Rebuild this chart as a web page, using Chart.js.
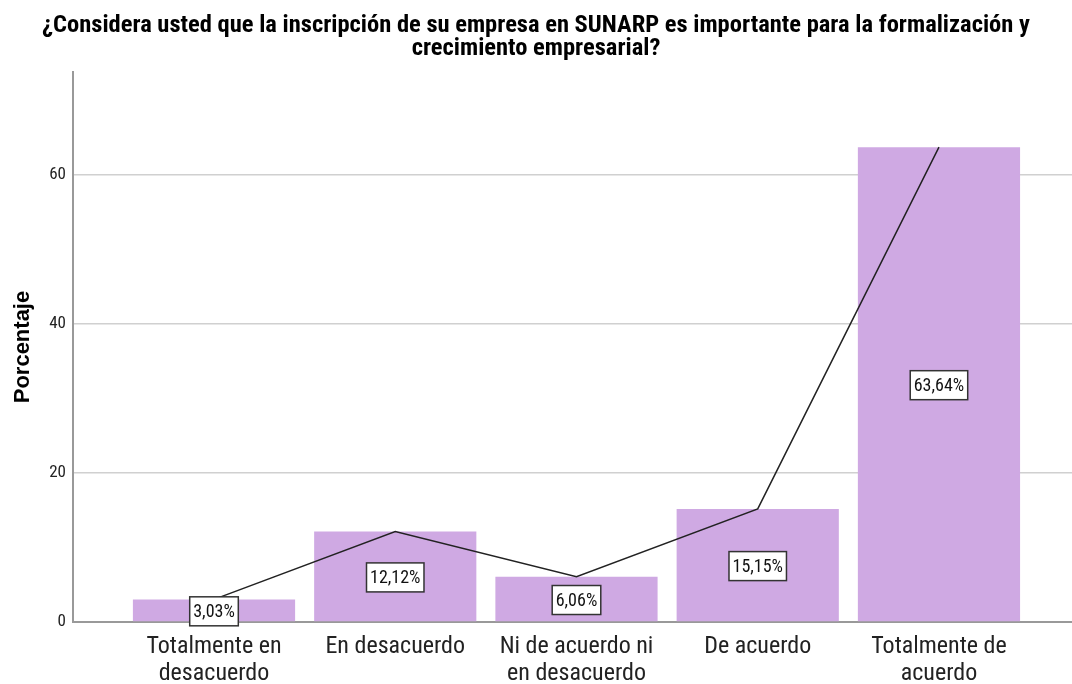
<!DOCTYPE html>
<html>
<head>
<meta charset="utf-8">
<script src="https://cdn.jsdelivr.net/npm/chart.js@4/dist/chart.umd.min.js"></script>
<style>
  html, body { margin: 0; padding: 0; background: #fff; }
  #wrap { width: 1072px; height: 684px; position: relative; }
</style>
</head>
<body>
<div id="wrap"><canvas id="c"></canvas></div>
<script>
const titleLines = ['¿Considera usted que la inscripción de su empresa en SUNARP es importante para la formalización y', 'crecimiento empresarial?'];
const categories = [
  ['Totalmente en', 'desacuerdo'],
  ['En desacuerdo'],
  ['Ni de acuerdo ni', 'en desacuerdo'],
  ['De acuerdo'],
  ['Totalmente de', 'acuerdo']
];
const percentages = [3.03, 12.12, 6.06, 15.15, 63.64];
const yTicks = [0, 20, 40, 60];
const yAxisTitle = 'Porcentaje';

const NARROW = "'Roboto Condensed', 'Liberation Sans Narrow', 'Arial Narrow', sans-serif";
const SANS = "'Liberation Sans', Arial, sans-serif";

const points = percentages.map((v, i) => ({ x: i, y: v }));

const labelPlugin = {
  id: 'boxLabels',
  afterDatasetsDraw(chart) {
    const meta = chart.getDatasetMeta(1);
    const ctx = chart.ctx;
    ctx.save();
    ctx.font = "18px " + NARROW;
    ctx.textAlign = 'center';
    ctx.textBaseline = 'middle';
    meta.data.forEach((el, i) => {
      const txt = percentages[i].toFixed(2).replace('.', ',') + '%';
      const cx = el.x;
      const cy = (el.y + el.base) / 2 + 1;
      const w = ctx.measureText(txt).width + 7;
      const h = 29;
      ctx.fillStyle = '#ffffff';
      ctx.fillRect(cx - w / 2, cy - h / 2, w, h);
      ctx.strokeStyle = '#333333';
      ctx.lineWidth = 1.5;
      ctx.strokeRect(cx - w / 2, cy - h / 2, w, h);
      ctx.fillStyle = '#111111';
      ctx.fillText(txt, cx, cy + 1);
    });
    ctx.restore();
  }
};

new Chart(document.getElementById('c'), {
  type: 'bar',
  data: {
    datasets: [
      {
        type: 'line',
        data: points,
        borderColor: '#222222',
        borderWidth: 1.5,
        pointRadius: 0,
        tension: 0,
        fill: false,
        order: 0
      },
      {
        type: 'bar',
        data: points,
        backgroundColor: '#CFA9E3',
        borderWidth: 0,
        barPercentage: 0.895,
        categoryPercentage: 1,
        order: 1
      }
    ]
  },
  options: {
    responsive: true,
    maintainAspectRatio: false,
    animation: false,
    layout: { padding: 0 },
    plugins: {
      legend: { display: false },
      tooltip: { enabled: false },
      title: {
        display: true,
        text: titleLines,
        color: '#000',
        font: { family: NARROW, size: 24.5, weight: 'bold', lineHeight: 0.94 },
        padding: { top: 14, bottom: 12 }
      }
    },
    scales: {
      x: {
        type: 'linear',
        offset: false,
        min: -0.778,
        max: 4.734,
        grid: { display: false, drawTicks: false, offset: false },
        border: { display: true, color: '#999999', width: 2 },
        afterBuildTicks(scale) {
          scale.ticks = categories.map((_, i) => ({ value: i }));
        },
        afterFit(scale) { scale.height = 62; },
        ticks: {
          autoSkip: false,
          maxRotation: 0,
          minRotation: 0,
          padding: 12,
          color: '#222',
          font: { family: NARROW, size: 24, lineHeight: 1.1 },
          callback: (v) => categories[v]
        }
      },
      y: {
        type: 'linear',
        min: 0,
        max: 73.7,
        afterBuildTicks(scale) {
          scale.ticks = yTicks.map(v => ({ value: v }));
        },
        afterFit(scale) { scale.width = 73; },
        grid: { color: '#d0d0d0', lineWidth: 1.5, drawTicks: false },
        border: { display: true, color: '#999999', width: 2 },
        ticks: {
          padding: 7,
          color: '#222',
          font: { family: NARROW, size: 17 }
        },
        title: {
          display: true,
          text: yAxisTitle,
          color: '#000',
          font: { family: SANS, size: 22, weight: 'bold', lineHeight: 1.2 },
          padding: { top: 10, bottom: 0 }
        }
      }
    }
  },
  plugins: [labelPlugin]
});
</script>
</body>
</html>
